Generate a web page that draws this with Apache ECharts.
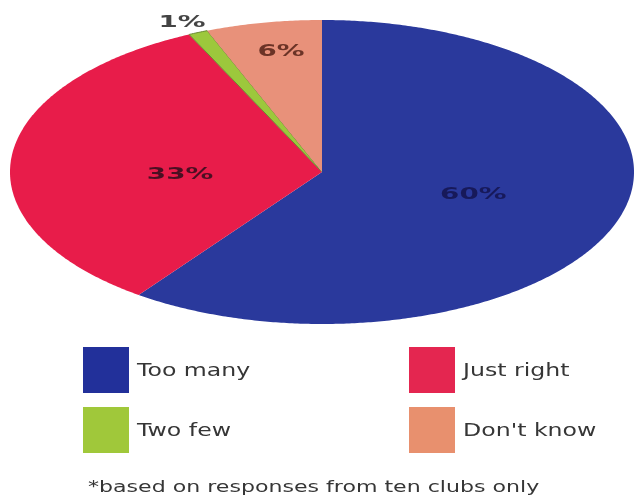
<!DOCTYPE html>
<html>
<head>
<meta charset="utf-8">
<script src="https://cdn.jsdelivr.net/npm/echarts@6/dist/echarts.min.js"></script>
<style>html,body{margin:0;padding:0;background:#fff}#c{width:634px;height:496px}</style>
</head>
<body>
<div id="c"></div>
<script>
// ---- data ----
const categories = ['Too many', 'Just right', 'Two few', "Don't know"];
const values = [60, 33, 1, 6];
const sliceLabels = ['60%', '33%', '1%', '6%'];
const footnote = '*based on responses from ten clubs only';

// ---- styles ----
const colors = ['#2a399c', '#e81c4a', '#9cc83c', '#e8917a'];
const legendColors = ['#22309a', '#e42650', '#a0c83a', '#e8906e'];
const labelColors = ['#17195a', '#4a0f22', '#444444', '#6b3326'];
const strokes = [null, null, '#6a8a30', null];
const labelFactor = [[0.51, 0.5], [0.457, -0.21], [1.13, 1.07], [0.70, 0.80]];
const cx = 322, cy = 172, rx = 312, ry = 152;
const FONT = '"DejaVu Sans", Verdana, sans-serif';

const total = values.reduce((a, b) => a + b, 0);

function renderItem(params, api) {
  const i = params.dataIndex;
  let before = 0;
  for (let k = 0; k < i; k++) before += values[k];
  const v = api.value(0);
  const a0 = before / total * Math.PI * 2;
  const a1 = (before + v) / total * Math.PI * 2;
  const n = Math.max(4, Math.ceil((a1 - a0) / (Math.PI / 360)));
  const pts = [[cx, cy]];
  for (let k = 0; k <= n; k++) {
    const a = a0 + (a1 - a0) * k / n;
    pts.push([cx + rx * Math.sin(a), cy - ry * Math.cos(a)]);
  }
  const am = (a0 + a1) / 2;
  const f = labelFactor[i];
  const lx = cx + rx * Math.sin(am) * f[0];
  const ly = cy - ry * Math.cos(am) * f[1];
  const poly = {
    type: 'polygon',
    shape: { points: pts },
    style: strokes[i] ? { fill: colors[i], stroke: strokes[i], lineWidth: 1 } : { fill: colors[i] }
  };
  return {
    type: 'group',
    children: [
      poly,
      {
        type: 'text', x: lx, y: ly, scaleX: 1.85, z2: 10,
        style: {
          text: sliceLabels[i], fill: labelColors[i],
          font: 'bold 15px ' + FONT, align: 'center', verticalAlign: 'middle'
        }
      }
    ]
  };
}

const graphics = [];
const colX = [83, 409], rowY = [347, 407];
categories.forEach((c, i) => {
  const col = i % 2, row = Math.floor(i / 2);
  graphics.push({
    type: 'rect', left: colX[col], top: rowY[row],
    shape: { width: 46, height: 46 },
    style: { fill: legendColors[i] }
  });
  graphics.push({
    type: 'text', x: colX[col] + 54, y: rowY[row] + 25, scaleX: 1.39,
    style: { text: c, fill: '#363636', font: '17px ' + FONT, align: 'left', verticalAlign: 'middle' }
  });
});
graphics.push({
  type: 'text', x: 88, y: 488, scaleX: 1.38,
  style: { text: footnote, fill: '#363636', font: '16px ' + FONT, align: 'left', verticalAlign: 'middle' }
});

const chart = echarts.init(document.getElementById('c'), null, { renderer: 'canvas' });
chart.setOption({
  backgroundColor: '#ffffff',
  animation: false,
  series: [{
    type: 'custom',
    coordinateSystem: 'none',
    renderItem: renderItem,
    data: values.map((v, i) => ({ name: categories[i], value: [v] }))
  }],
  graphic: graphics
});
</script>
</body>
</html>
